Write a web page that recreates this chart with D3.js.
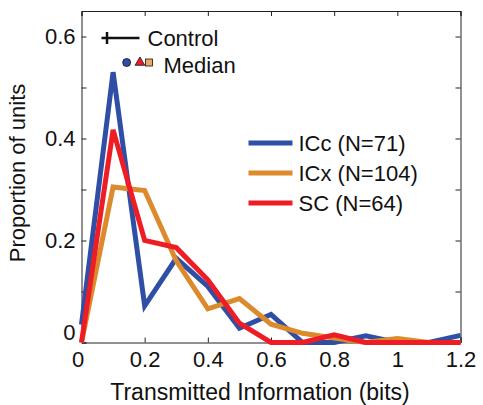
<!DOCTYPE html>
<meta charset="utf-8">
<script src="https://d3js.org/d3.v7.min.js"></script>
<style>
  body { margin: 0; background: #fff; }
  text { font-family: "Liberation Sans", Arial, sans-serif; fill: #111; }
</style>
<div id="chart"></div>
<script>

// bin centres (bits)
var bins = [0, 0.1, 0.2, 0.3, 0.4, 0.5, 0.6, 0.7, 0.8, 0.9, 1.0, 1.1, 1.2];

// proportion of units per bin
var icc = [0.035, 0.53, 0.072, 0.165, 0.11, 0.028, 0.055, 0, 0, 0.013, 0, 0, 0.014];
var icx = [0, 0.305, 0.298, 0.16, 0.066, 0.086, 0.036, 0.018, 0.009, 0, 0.008, 0, 0];
var sc  = [0, 0.417, 0.2, 0.186, 0.123, 0.038, 0, 0, 0.015, 0, 0, 0, 0];

var seriesNames = ["ICc (N=71)", "ICx (N=104)", "SC (N=64)"];
var seriesColors = ["#2f4ea6", "#dc8a2c", "#ee1c25"];

// medians drawn as markers near the top (x in bits)
var medians = [0.143, 0.214, 0.185];   // ICc circle, ICx square, SC triangle
var medianLevel = 0.549;

var xTicks = [0, 0.2, 0.4, 0.6, 0.8, 1.0, 1.2];
var yTicks = [0, 0.1, 0.2, 0.3, 0.4, 0.5, 0.6];

var margin = {top: 11, right: 22.5, bottom: 62.5, left: 81.5},
    width = 483 - margin.left - margin.right,
    height = 405 - margin.top - margin.bottom;

var svg = d3.select("#chart")
  .append("svg")
    .attr("width", 483)
    .attr("height", 405)
  .append("g")
    .attr("transform", "translate(" + margin.left + "," + margin.top + ")");

var x = d3.scaleLinear().domain([0, 1.2]).range([0, width]);
var y = d3.scaleLinear().domain([0, 0.65]).range([height, 0]);

var fmt = function(d) { return d === 0 ? "0" : String(+d.toFixed(1)); };

// axes, ticks inside on all four sides
var xb = svg.append("g")
  .attr("transform", "translate(0," + height + ")")
  .call(d3.axisBottom(x).tickValues(xTicks).tickSize(-5).tickPadding(10).tickFormat(fmt));
svg.append("g")
  .call(d3.axisTop(x).tickValues(xTicks).tickSize(-5).tickFormat(""));
var yl = svg.append("g")
  .call(d3.axisLeft(y).tickValues(yTicks).tickSize(-5).tickPadding(6)
    .tickFormat(function(d) { return Math.round(d * 10) % 2 === 0 ? fmt(d) : ""; }));
svg.append("g")
  .attr("transform", "translate(" + width + ",0)")
  .call(d3.axisRight(y).tickValues(yTicks).tickSize(-5).tickFormat(""));

svg.selectAll(".domain").attr("stroke", "#222");
svg.selectAll(".tick line").attr("stroke", "#222");
svg.selectAll(".tick text").style("font-size", "22px").attr("fill", "#111");
xb.selectAll(".tick text").attr("dy", "0.68em");
xb.selectAll(".tick").filter(function(d) { return d === 0; }).select("text").attr("dx", -4);
yl.selectAll(".tick").filter(function(d) { return d === 0; }).select("text").attr("dy", "-0.15em");

// lines
var line = d3.line()
  .x(function(d, i) { return x(bins[i]); })
  .y(function(d) { return y(d); });

[icc, icx, sc].forEach(function(s, i) {
  svg.append("path")
    .datum(s)
    .attr("fill", "none")
    .attr("stroke", seriesColors[i])
    .attr("stroke-width", 5)
    .attr("stroke-linejoin", "miter")
    .attr("d", line);
});

// series legend
var leg = svg.append("g").attr("transform", "translate(167,132)");
seriesNames.forEach(function(n, i) {
  leg.append("line")
    .attr("x1", 0).attr("x2", 44)
    .attr("y1", i * 30).attr("y2", i * 30)
    .attr("stroke", seriesColors[i]).attr("stroke-width", 5);
  leg.append("text")
    .attr("x", 50).attr("y", i * 30 + 8)
    .style("font-size", "22px")
    .text(n);
});

// control / median legend
var ctl = svg.append("g").attr("transform", "translate(20,27)");
ctl.append("line").attr("x1", 0).attr("x2", 38).attr("y1", 0).attr("y2", 0)
  .attr("stroke", "#111").attr("stroke-width", 2.5);
ctl.append("line").attr("x1", 5.5).attr("x2", 5.5).attr("y1", -6).attr("y2", 6)
  .attr("stroke", "#111").attr("stroke-width", 2.5);
ctl.append("text").attr("x", 46).attr("y", 8).style("font-size", "22px").text("Control");
ctl.append("text").attr("x", 62).attr("y", 35).style("font-size", "22px").text("Median");

var my = y(medianLevel);
svg.append("circle")
  .attr("cx", x(medians[0])).attr("cy", my).attr("r", 4)
  .attr("fill", seriesColors[0]).attr("stroke", "#111").attr("stroke-width", 0.8);
svg.append("path")
  .attr("transform", "translate(" + x(medians[2]) + "," + my + ")")
  .attr("d", d3.symbol().type(d3.symbolTriangle).size(40))
  .attr("fill", seriesColors[2]).attr("stroke", "#111").attr("stroke-width", 0.8);
svg.append("rect")
  .attr("x", x(medians[1]) - 3.5).attr("y", my - 3.5)
  .attr("width", 7).attr("height", 7)
  .attr("fill", "#f0a860").attr("stroke", "#111").attr("stroke-width", 0.8);

// axis labels
svg.append("text")
  .attr("x", width / 2 - 11).attr("y", height + 57)
  .attr("text-anchor", "middle")
  .style("font-size", "23px")
  .text("Transmitted Information (bits)");
svg.append("text")
  .attr("transform", "translate(" + (25 - margin.left) + "," + (173 - margin.top) + ") rotate(-90)")
  .attr("text-anchor", "middle")
  .style("font-size", "22px")
  .text("Proportion of units");

</script>
